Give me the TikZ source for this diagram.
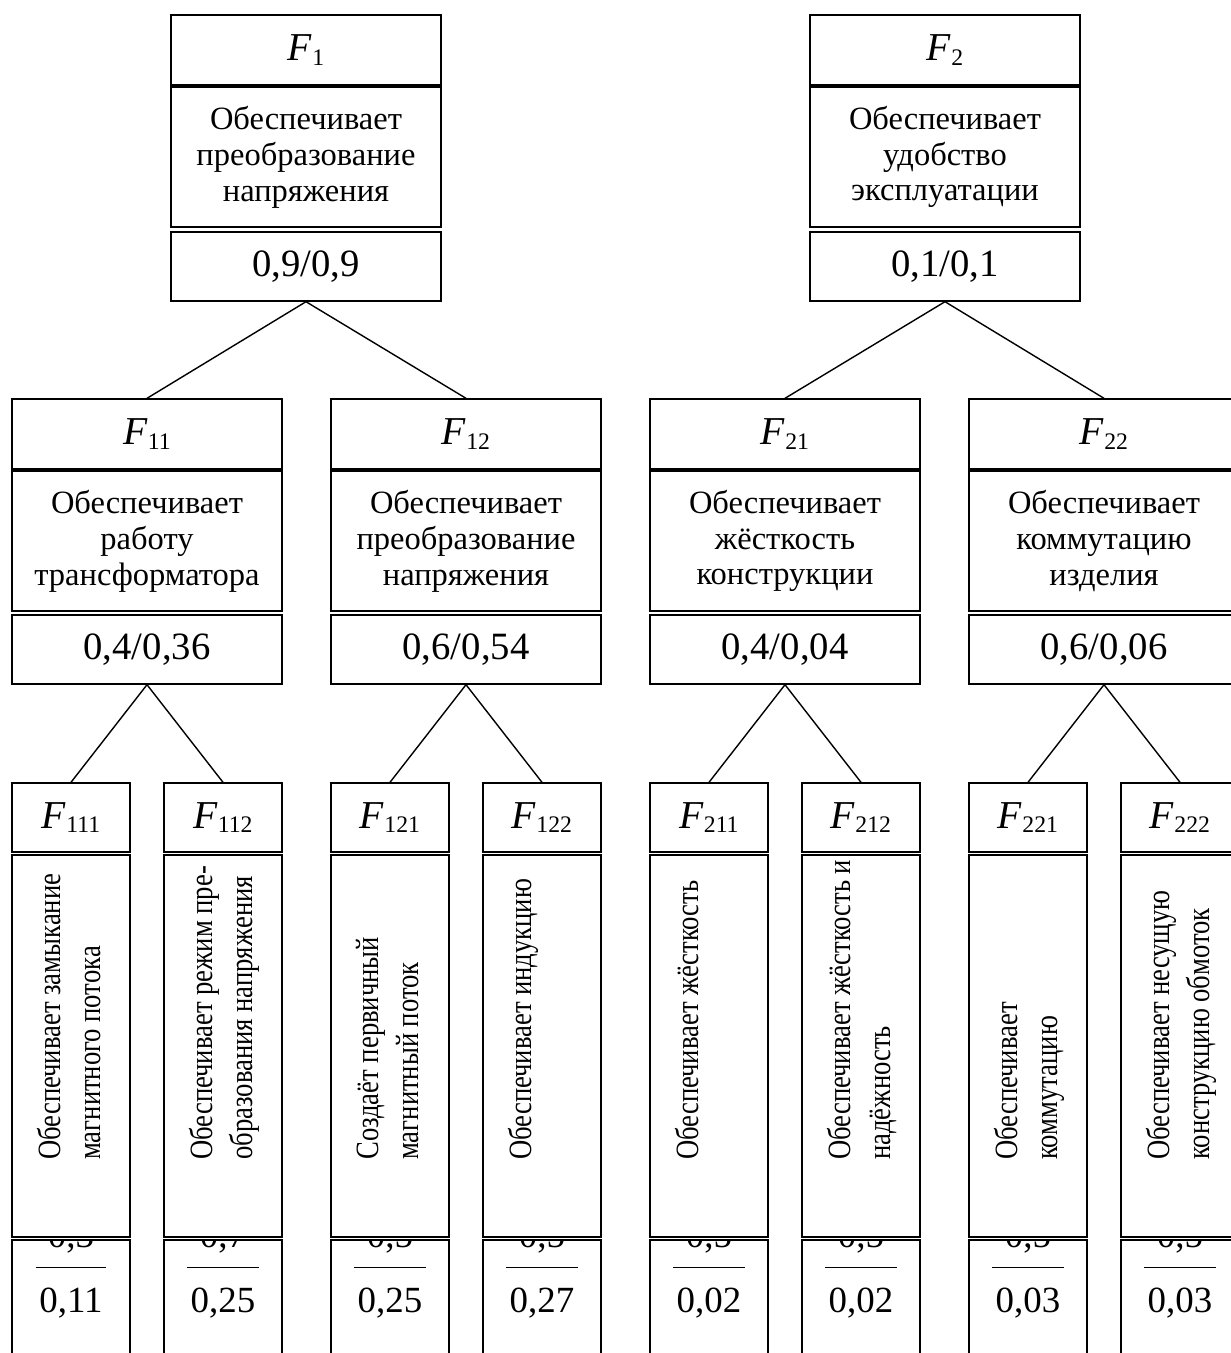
\documentclass[tikz,border=0pt]{standalone}
\usepackage{fontspec}
\setmainfont{Liberation Serif}

\newcommand{\fsub}[2]{\textit{#1}\raisebox{-2.5pt}{\fontsize{13.5}{15}\selectfont #2}}

\tikzset{
  hdr/.style={draw, line width=0.8pt, inner sep=0pt, minimum width=5.4cm, minimum height=1.4cm, font=\fontsize{22.5}{26}\selectfont},
  dsc/.style={draw, line width=0.8pt, inner sep=0pt, minimum width=5.4cm, minimum height=2.8cm, align=center, font=\fontsize{18.5}{20.4}\selectfont},
  val/.style={draw, line width=0.8pt, inner sep=0pt, minimum width=5.4cm, minimum height=1.38cm, font=\fontsize{22}{26}\selectfont},
  shdr/.style={hdr, minimum width=2.36cm, minimum height=1.38cm},
  sdsc/.style={draw, line width=0.8pt, inner sep=0pt, minimum width=2.36cm, minimum height=7.64cm},
  sval/.style={draw, line width=0.8pt, inner sep=0pt, minimum width=2.36cm, minimum height=3.2cm},
  vtxt/.style={rotate=90, xscale=0.82, anchor=north west, inner sep=0pt, align=left, font=\fontsize{18.5}{22.5}\selectfont},
  num/.style={anchor=base, inner sep=0pt, font=\fontsize{21}{24}\selectfont},
  den/.style={anchor=base, inner xsep=2pt, inner ysep=0pt, text height=25pt, font=\fontsize{21}{24}\selectfont},
  link/.style={line width=0.8pt},
}

\begin{document}
\begin{tikzpicture}[x=0.02cm, y=-0.02cm]
\useasboundingbox (0,0) rectangle (1231,1353);
\clip (0,0) rectangle (1231,1353);

% level 1
\node[hdr] (h1) at (306,50) {\fsub{F}{1}};
\node[dsc] (d1) at (306,157) {Обеспечивает\\преобразование\\напряжения};
\node[val] (v1) at (306,266.5) {0,9/0,9};

\node[hdr] (h2) at (945,50) {\fsub{F}{2}};
\node[dsc] (d2) at (945,157) {Обеспечивает\\удобство\\эксплуатации};
\node[val] (v2) at (945,266.5) {0,1/0,1};

% level 2
\node[hdr] (h11) at (147,434) {\fsub{F}{11}};
\node[dsc] (d11) at (147,541) {Обеспечивает\\работу\\трансформатора};
\node[val] (v11) at (147,649.5) {0,4/0,36};

\node[hdr] (h12) at (466,434) {\fsub{F}{12}};
\node[dsc] (d12) at (466,541) {Обеспечивает\\преобразование\\напряжения};
\node[val] (v12) at (466,649.5) {0,6/0,54};

\node[hdr] (h21) at (785,434) {\fsub{F}{21}};
\node[dsc] (d21) at (785,541) {Обеспечивает\\жёсткость\\конструкции};
\node[val] (v21) at (785,649.5) {0,4/0,04};

\node[hdr] (h22) at (1104,434) {\fsub{F}{22}};
\node[dsc] (d22) at (1104,541) {Обеспечивает\\коммутацию\\изделия};
\node[val] (v22) at (1104,649.5) {0,6/0,06};

\draw[link] (v1.south) -- (h11.north);
\draw[link] (v1.south) -- (h12.north);
\draw[link] (v2.south) -- (h21.north);
\draw[link] (v2.south) -- (h22.north);

% level 3
\node[shdr] (h111) at (71,817.5) {\fsub{F}{111}};
\node[shdr] (h112) at (223,817.5) {\fsub{F}{112}};
\node[shdr] (h121) at (390,817.5) {\fsub{F}{121}};
\node[shdr] (h122) at (542,817.5) {\fsub{F}{122}};
\node[shdr] (h211) at (709,817.5) {\fsub{F}{211}};
\node[shdr] (h212) at (861,817.5) {\fsub{F}{212}};
\node[shdr] (h221) at (1028,817.5) {\fsub{F}{221}};
\node[shdr] (h222) at (1180,817.5) {\fsub{F}{222}};

\draw[link] (v11.south) -- (h111.north);
\draw[link] (v11.south) -- (h112.north);
\draw[link] (v12.south) -- (h121.north);
\draw[link] (v12.south) -- (h122.north);
\draw[link] (v21.south) -- (h211.north);
\draw[link] (v21.south) -- (h212.north);
\draw[link] (v22.south) -- (h221.north);
\draw[link] (v22.south) -- (h222.north);

\node[sdsc] (d111) at (71,1046) {};
\node[sdsc] (d112) at (223,1046) {};
\node[sdsc] (d121) at (390,1046) {};
\node[sdsc] (d122) at (542,1046) {};
\node[sdsc] (d211) at (709,1046) {};
\node[sdsc] (d212) at (861,1046) {};
\node[sdsc] (d221) at (1028,1046) {};
\node[sdsc] (d222) at (1180,1046) {};

\node[vtxt] (t111) at (37,1160) {Обеспечивает замыкание\\магнитного потока};
\node[vtxt] (t112) at (189,1160) {Обеспечивает режим пре-\\образования напряжения};
\node[vtxt] (t121) at (356,1160) {Создаёт первичный\\магнитный поток};
\node[vtxt] (t122) at (508,1160) {Обеспечивает индукцию};
\node[vtxt] (t211) at (675,1160) {Обеспечивает жёсткость};
\node[vtxt] (t212) at (827,1160) {Обеспечивает жёсткость и\\надёжность};
\node[vtxt] (t221) at (994,1160) {Обеспечивает\\коммутацию};
\node[vtxt] (t222) at (1146,1160) {Обеспечивает несущую\\конструкцию обмоток};

\node[sval] (v111) at (71,1320) {};
\node[sval] (v112) at (223,1320) {};
\node[sval] (v121) at (390,1320) {};
\node[sval] (v122) at (542,1320) {};
\node[sval] (v211) at (709,1320) {};
\node[sval] (v212) at (861,1320) {};
\node[sval] (v221) at (1028,1320) {};
\node[sval] (v222) at (1180,1320) {};

% numerators cut by the box top
\begin{scope}
\clip (0,1241) rectangle (1231,1353);
\node[num] (n111) at (71,1247) {0,3};
\node[num] (n112) at (223,1247) {0,7};
\node[num] (n121) at (390,1247) {0,5};
\node[num] (n122) at (542,1247) {0,5};
\node[num] (n211) at (709,1247) {0,5};
\node[num] (n212) at (861,1247) {0,5};
\node[num] (n221) at (1028,1247) {0,5};
\node[num] (n222) at (1180,1247) {0,5};
\end{scope}

\node[den] (f111) at (71,1312) {0,11};
\node[den] (f112) at (223,1312) {0,25};
\node[den] (f121) at (390,1312) {0,25};
\node[den] (f122) at (542,1312) {0,27};
\node[den] (f211) at (709,1312) {0,02};
\node[den] (f212) at (861,1312) {0,02};
\node[den] (f221) at (1028,1312) {0,03};
\node[den] (f222) at (1180,1312) {0,03};

\draw (f111.north west) -- (f111.north east);
\draw (f112.north west) -- (f112.north east);
\draw (f121.north west) -- (f121.north east);
\draw (f122.north west) -- (f122.north east);
\draw (f211.north west) -- (f211.north east);
\draw (f212.north west) -- (f212.north east);
\draw (f221.north west) -- (f221.north east);
\draw (f222.north west) -- (f222.north east);

\end{tikzpicture}
\end{document}
